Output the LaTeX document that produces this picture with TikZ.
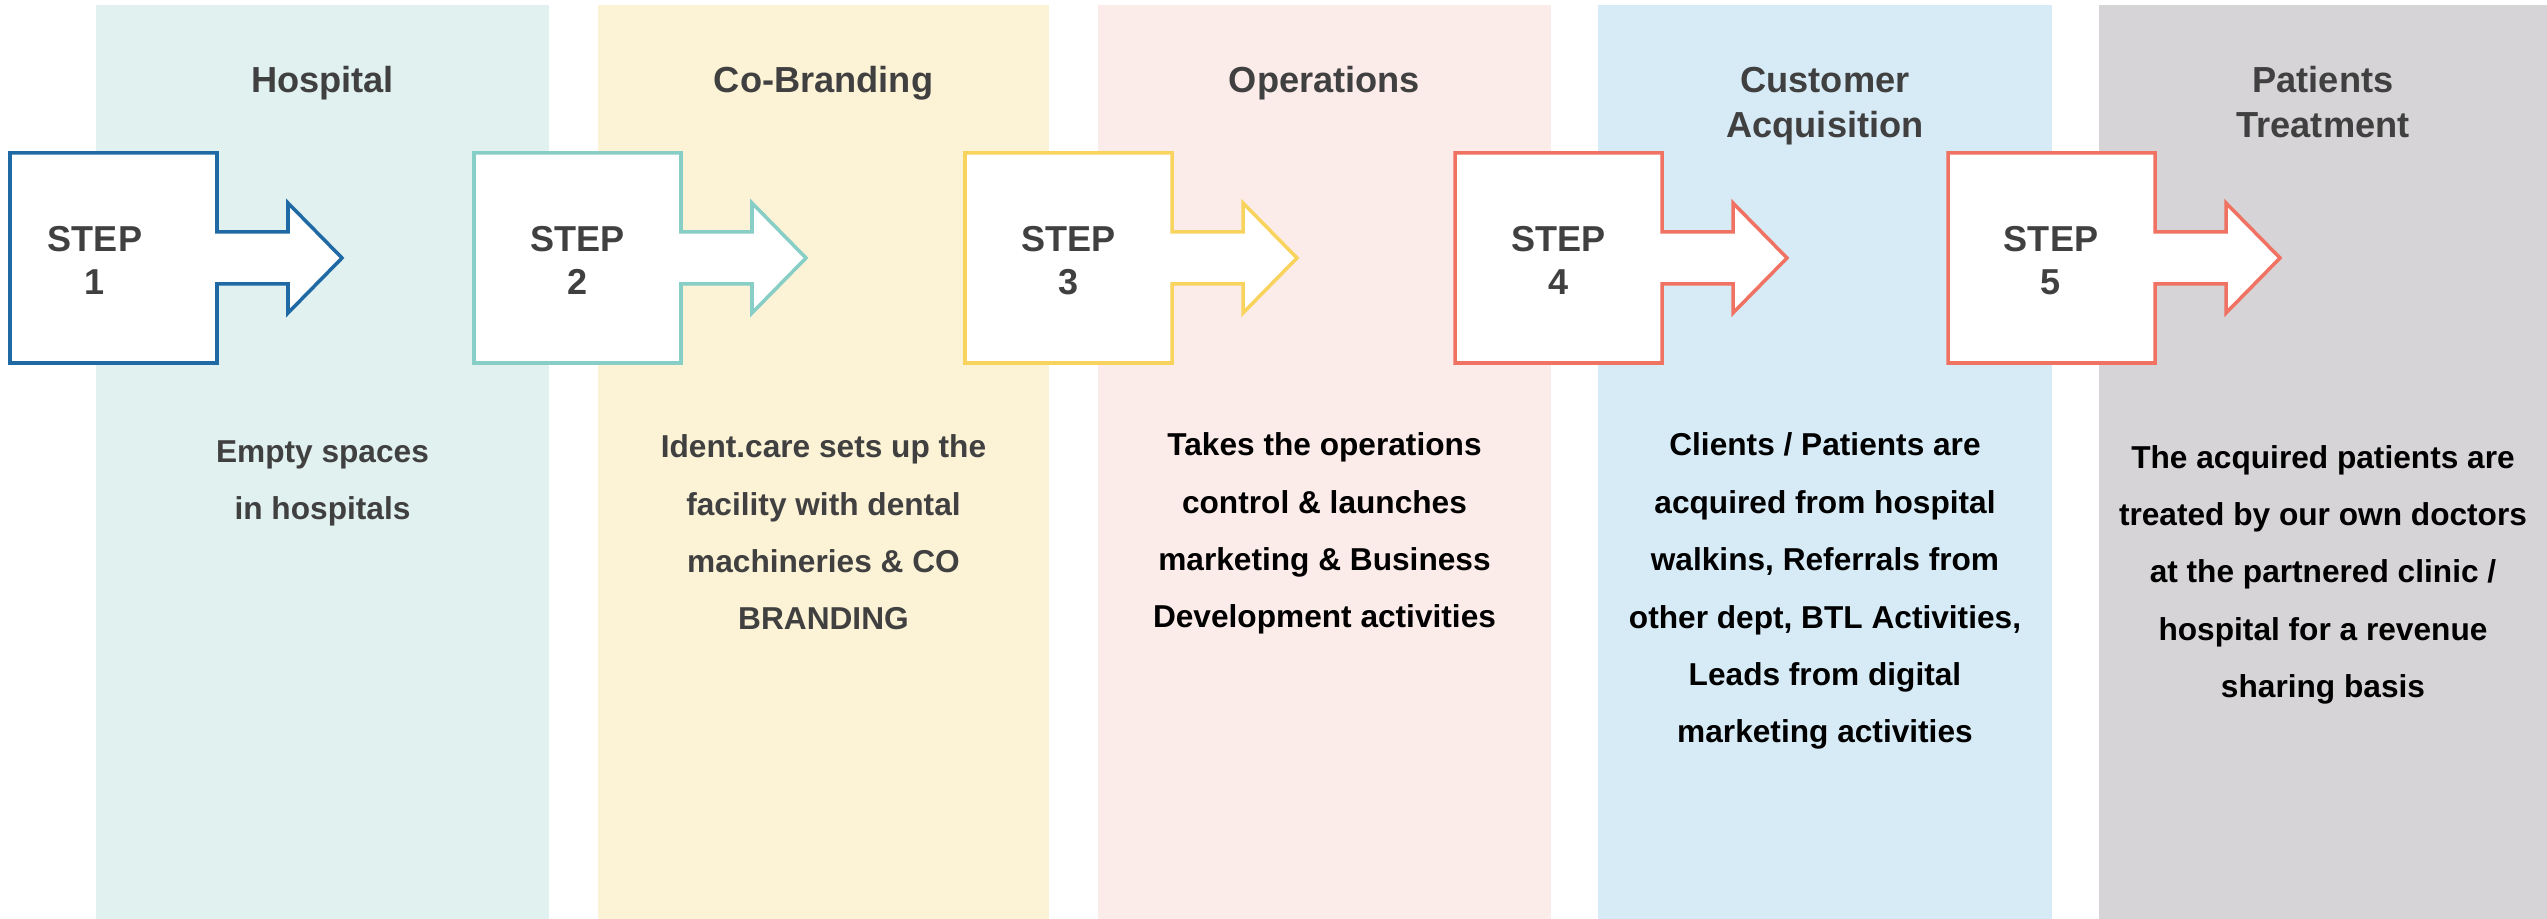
\documentclass[tikz,border=0pt]{standalone}
\usepackage{fontspec}
\setmainfont{Liberation Sans}
\definecolor{colA}{HTML}{E0F1EF}
\definecolor{colB}{HTML}{FCF2D6}
\definecolor{colC}{HTML}{FCECE9}
\definecolor{colD}{HTML}{D7EBF6}
\definecolor{colE}{HTML}{D6D4D6}
\definecolor{lineA}{HTML}{1F6AA5}
\definecolor{lineB}{HTML}{86CEC6}
\definecolor{lineC}{HTML}{F8D35E}
\definecolor{lineD}{HTML}{F07263}
\definecolor{txtgray}{HTML}{404040}
\newcommand{\stepoutline}[2]{%
  \draw[stepline=#2] (#1,153) -- ++(207,0) -- ++(0,79) -- ++(71,0) -- ++(0,-29)
    -- ++(54,55) -- ++(-54,55) -- ++(0,-29) -- ++(-71,0) -- ++(0,79) -- ++(-207,0) -- cycle;}
\begin{document}
\begin{tikzpicture}[x=0.01cm,y=-0.01cm,
  stepline/.style={draw=#1, fill=white, line width=1pt, line join=miter},
  title/.style={font=\bfseries\fontsize{10.3}{12.8}\selectfont, text=txtgray, align=center, anchor=base, inner sep=0pt},
  steplbl/.style={font=\bfseries\fontsize{10.25}{12.5}\selectfont, text=txtgray, align=center, anchor=base, inner sep=0pt},
  body/.style={font=\bfseries\fontsize{9}{16.35}\selectfont, align=center, anchor=base, inner sep=0pt},
]
\useasboundingbox (0,0) rectangle (2547,919);
% columns
\fill[colA] (96,5) rectangle (549,919);
\fill[colB] (598,5) rectangle (1049,919);
\fill[colC] (1098,5) rectangle (1551,919);
\fill[colD] (1598,5) rectangle (2052,919);
\fill[colE] (2099,5) rectangle (2547,919);
% titles (anchor base = baseline of last line)
\node[title] (t1) at (322.5,93) {Hospital};
\node[title] (t2) at (823.5,93) {Co-Branding};
\node[title] (t3) at (1324.5,93) {Operations};
\node[title] (t4) at (1825,138) {Customer\\Acquisition};
\node[title] (t5) at (2323,138) {Patients\\Treatment};
% step shapes
\stepoutline{10}{lineA}
\stepoutline{474}{lineB}
\stepoutline{965}{lineC}
\stepoutline{1455}{lineD}
\stepoutline{1948}{lineD}
\node[steplbl] (s1) at (95,295) {STEP\\1};
\node[steplbl] (s2) at (577.5,295) {STEP\\2};
\node[steplbl] (s3) at (1068.5,295) {STEP\\3};
\node[steplbl] (s4) at (1558.5,295) {STEP\\4};
\node[steplbl] (s5) at (2051,295) {STEP\\5};
% body texts
\node[body, text=txtgray] (b1) at (322.5,520) {Empty spaces\\in hospitals};
\node[body, text=txtgray] (b2) at (823.5,630) {Ident.care sets up the\\facility with dental\\machineries \& CO\\BRANDING};
\node[body, text=black] (b3) at (1324.5,628) {Takes the operations\\control \& launches\\marketing \& Business\\Development activities};
\node[body, text=black] (b4) at (1825,743) {Clients / Patients are\\acquired from hospital\\walkins, Referrals from\\other dept, BTL Activities,\\Leads from digital\\marketing activities};
\node[body, text=black] (b5) at (2323,698) {The acquired patients are\\treated by our own doctors\\at the partnered clinic /\\hospital for a revenue\\sharing basis};
\end{tikzpicture}
\end{document}
